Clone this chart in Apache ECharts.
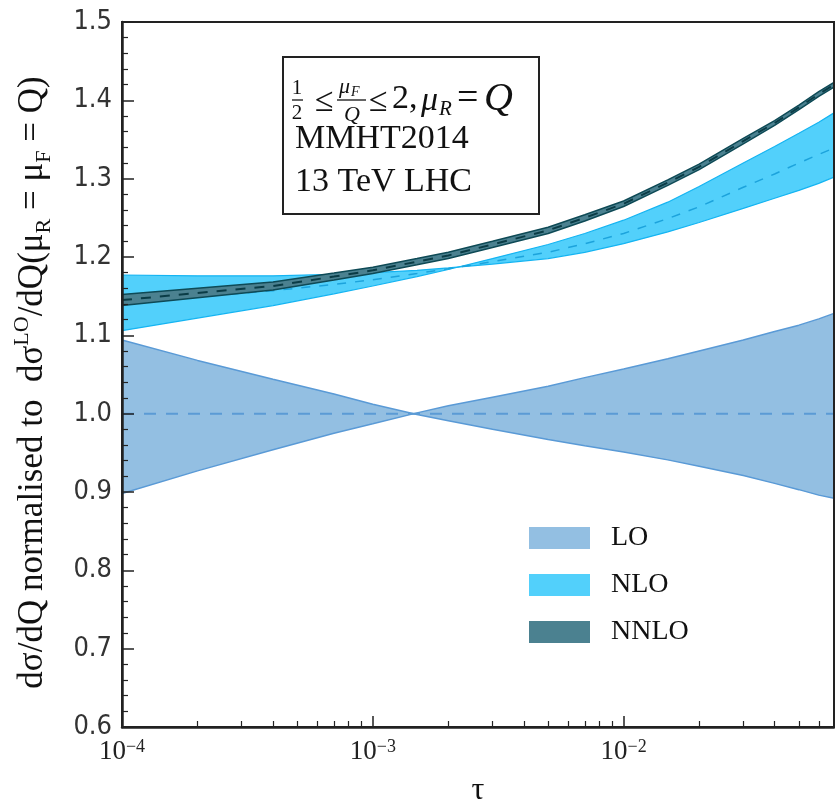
<!DOCTYPE html>
<html>
<head>
<meta charset="utf-8">
<script src="https://cdn.jsdelivr.net/npm/echarts@6/dist/echarts.min.js"></script>
<style>
  html, body { margin: 0; padding: 0; background: #fff; }
  #chart { width: 835px; height: 806px; }
</style>
</head>
<body>
<div id="chart"></div>
<script>
// tau sample points (x)
var tau = [1e-4, 2e-4, 4e-4, 7e-4, 1e-3, 1.5e-3, 2e-3, 3e-3, 5e-3, 7e-3,
           1e-2, 1.5e-2, 2e-2, 3e-2, 4e-2, 5e-2, 6e-2, 0.069];

// LO scale band edges and central value
var loA   = [1.094, 1.068, 1.044, 1.025, 1.012, 0.999, 0.991, 0.980, 0.967, 0.959,
             0.951, 0.941, 0.933, 0.921, 0.911, 0.903, 0.896, 0.892];
var loB   = [0.898, 0.927, 0.954, 0.975, 0.987, 1.001, 1.010, 1.021, 1.035, 1.046,
             1.057, 1.070, 1.080, 1.094, 1.105, 1.113, 1.121, 1.128];
var loMid = [1, 1, 1, 1, 1, 1, 1, 1, 1, 1, 1, 1, 1, 1, 1, 1, 1, 1];

// NLO
var nloA   = [1.177, 1.176, 1.176, 1.178, 1.180, 1.183, 1.186, 1.191, 1.198, 1.206,
              1.217, 1.232, 1.244, 1.262, 1.275, 1.285, 1.294, 1.302];
var nloB   = [1.106, 1.122, 1.138, 1.153, 1.163, 1.175, 1.184, 1.198, 1.216, 1.230,
              1.247, 1.270, 1.290, 1.320, 1.341, 1.358, 1.372, 1.384];
var nloMid = [1.141, 1.149, 1.157, 1.165, 1.171, 1.179, 1.185, 1.194, 1.206, 1.217,
              1.230, 1.249, 1.264, 1.289, 1.306, 1.320, 1.331, 1.339];

// NNLO
var nnloUp  = [1.152, 1.160, 1.168, 1.1795, 1.187, 1.198, 1.206, 1.220, 1.238, 1.254,
               1.2715, 1.2985, 1.3185, 1.3515, 1.374, 1.394, 1.411, 1.423];
var nnloLo  = [1.138, 1.148, 1.158, 1.1705, 1.179, 1.190, 1.198, 1.212, 1.230, 1.246,
               1.2645, 1.2915, 1.3115, 1.3445, 1.368, 1.388, 1.405, 1.417];
var nnloMid = [1.145, 1.154, 1.163, 1.175, 1.183, 1.194, 1.202, 1.216, 1.234, 1.250,
               1.268, 1.295, 1.315, 1.348, 1.371, 1.391, 1.408, 1.420];

// axis ticks
var xMajorTicks = [1e-4, 1e-3, 1e-2];
var xMinorTicks = [2e-4, 3e-4, 4e-4, 5e-4, 6e-4, 7e-4, 8e-4, 9e-4,
                   2e-3, 3e-3, 4e-3, 5e-3, 6e-3, 7e-3, 8e-3, 9e-3,
                   2e-2, 3e-2, 4e-2, 5e-2, 6e-2];
var legendNames = ['LO', 'NLO', 'NNLO'];

var SERIF = 'Liberation Serif';

function pts(ys) {
  return tau.map(function (t, i) { return [t, ys[i]]; });
}

// filled band between two curves (curve a forward, curve b back)
function band(name, a, b, color, z) {
  return {
    type: 'custom', name: name, clip: true, silent: true, z: z,
    data: tau.map(function (t, i) { return [t, a[i], b[i]]; }),
    encode: { x: 0, y: [1, 2] },
    itemStyle: { color: color },
    renderItem: function (params, api) {
      if (params.dataIndex !== 0) return;
      var up = [], dn = [];
      for (var i = 0; i < tau.length; i++) {
        up.push(api.coord([tau[i], a[i]]));
        dn.push(api.coord([tau[i], b[i]]));
      }
      return { type: 'polygon', shape: { points: up.concat(dn.reverse()) },
               style: { fill: color } };
    }
  };
}

function line(ys, color, width, type, z) {
  return {
    type: 'line', data: pts(ys), symbol: 'none', silent: true, z: z,
    lineStyle: { color: color, width: width, type: type }
  };
}

var series = [
  band('LO', loA, loB, '#93bfe2', 2),
  line(loA, '#5a9ad6', 1.5, 'solid', 3), line(loB, '#5a9ad6', 1.5, 'solid', 3),
  line(loMid, '#5b9bd5', 2, [12, 10], 3),
  band('NLO', nloA, nloB, '#52d0fb', 4),
  line(nloA, '#14b4f2', 1.2, 'solid', 5), line(nloB, '#14b4f2', 1.2, 'solid', 5),
  line(nloMid, '#1ca3dc', 1.5, [9, 9], 5),
  band('NNLO', nnloUp, nnloLo, '#4b8190', 6),
  line(nnloUp, '#0e4a56', 1.5, 'solid', 7), line(nnloLo, '#0e4a56', 1.5, 'solid', 7),
  line(nnloMid, '#0a3c46', 2, [10, 9], 7)
];

var chart = echarts.init(document.getElementById('chart'));

function t(x, y, s, size, opts) {
  opts = opts || {};
  return {
    type: 'text', x: x, y: y, z: 100,
    style: {
      text: s, fill: '#111', fontFamily: SERIF, fontSize: size,
      fontStyle: opts.italic ? 'italic' : 'normal',
      align: opts.align || 'left', verticalAlign: 'middle'
    }
  };
}
function bar(x1, x2, y) {
  return { type: 'line', z: 100, shape: { x1: x1, y1: y, x2: x2, y2: y },
           style: { stroke: '#111', lineWidth: 1.3 } };
}

var option = {
  animation: false,
  backgroundColor: '#fff',
  grid: { left: 122, right: 1, top: 22, bottom: 79, show: true, z: 10,
          containLabel: false, outerBoundsMode: 'none',
          borderColor: '#222', borderWidth: 2, backgroundColor: 'transparent' },
  legend: {
    data: legendNames, orient: 'vertical', left: 529, top: 524, padding: 0,
    icon: 'rect', itemWidth: 61, itemHeight: 22, itemGap: 19,
    itemStyle: { opacity: 1, borderWidth: 0 },
    textStyle: { fontFamily: SERIF, fontSize: 28, color: '#111', lineHeight: 22,
                 padding: [0, 0, 0, 16] },
    selectedMode: false
  },
  xAxis: [{
    type: 'log', logBase: 10, min: 1e-4, max: 0.069, z: 10,
    name: 'τ', nameLocation: 'middle', nameGap: 48,
    nameTextStyle: { fontFamily: SERIF, fontSize: 32, color: '#111' },
    axisLine: { lineStyle: { color: '#222', width: 2.5 } },
    axisTick: { inside: true, length: 11, customValues: xMajorTicks,
                lineStyle: { color: '#222', width: 1.5 } },
    axisLabel: {
      customValues: xMajorTicks, margin: 11, color: '#222',
      formatter: function (v) {
        var e = Math.round(Math.log10(v));
        return '{b|10}{s|' + (e < 0 ? '−' : '') + Math.abs(e) + '}';
      },
      rich: {
        b: { fontFamily: SERIF, fontSize: 27, lineHeight: 28, color: '#222' },
        s: { fontFamily: SERIF, fontSize: 18, lineHeight: 14, verticalAlign: 'top', color: '#222' }
      }
    },
    splitLine: { show: false }
  }, {
    type: 'log', logBase: 10, min: 1e-4, max: 0.069, position: 'bottom', z: 10,
    axisLine: { show: false },
    axisTick: { inside: true, length: 6, customValues: xMinorTicks,
                lineStyle: { color: '#222', width: 1.2 } },
    axisLabel: { show: false },
    splitLine: { show: false }
  }],
  yAxis: {
    type: 'value', min: 0.6, max: 1.5, interval: 0.1, z: 10,
    name: '{n|dσ/dQ normalised to  dσ}{sup|LO}{n|/dQ(μ}{sub|R}{n| = μ}{sub|F}{n| = Q)}',
    nameLocation: 'middle', nameGap: 67, nameRotate: 90,
    nameTextStyle: {
      padding: [0, 16, 0, 0],
      rich: {
        n: { fontFamily: SERIF, fontSize: 35, lineHeight: 44, color: '#111' },
        sup: { fontFamily: SERIF, fontSize: 22, lineHeight: 23, verticalAlign: 'top', color: '#111' },
        sub: { fontFamily: SERIF, fontSize: 22, lineHeight: 23, verticalAlign: 'bottom', color: '#111' }
      }
    },
    axisLine: { show: true, lineStyle: { color: '#222', width: 2.5 } },
    axisTick: { inside: true, length: 12, lineStyle: { color: '#222', width: 1.5 } },
    minorTick: { show: true, splitNumber: 5, length: 6, lineStyle: { color: '#222', width: 1.2 } },
    axisLabel: {
      margin: 10, color: '#333', fontSize: 27,
      fontFamily: 'DejaVu Sans Condensed, Liberation Sans, sans-serif',
      formatter: function (v) { return v.toFixed(1); }
    },
    splitLine: { show: false }
  },
  graphic: [
    { type: 'rect', z: 99, shape: { x: 283, y: 57, width: 256, height: 157 },
      style: { fill: '#fff', stroke: '#222', lineWidth: 2 } },
    t(297, 88, '1', 21, { align: 'center' }),
    bar(292, 303, 100),
    t(297, 113, '2', 21, { align: 'center' }),
    t(315, 102, '≤', 34),
    t(339, 87, 'μ', 22, { italic: true }),
    t(351, 92, 'F', 14, { italic: true }),
    bar(337, 366, 100),
    t(352, 115, 'Q', 22, { italic: true, align: 'center' }),
    t(369, 102, '≤', 34),
    t(392, 99, '2,', 34),
    t(421, 101, 'μ', 34, { italic: true }),
    t(439, 109, 'R', 21, { italic: true }),
    t(457, 99, '=', 38),
    t(484, 99, 'Q', 40, { italic: true }),
    t(295, 139, 'MMHT2014', 34),
    t(295, 182, '13 TeV LHC', 34)
  ],
  series: series
};

chart.setOption(option);
</script>
</body>
</html>
